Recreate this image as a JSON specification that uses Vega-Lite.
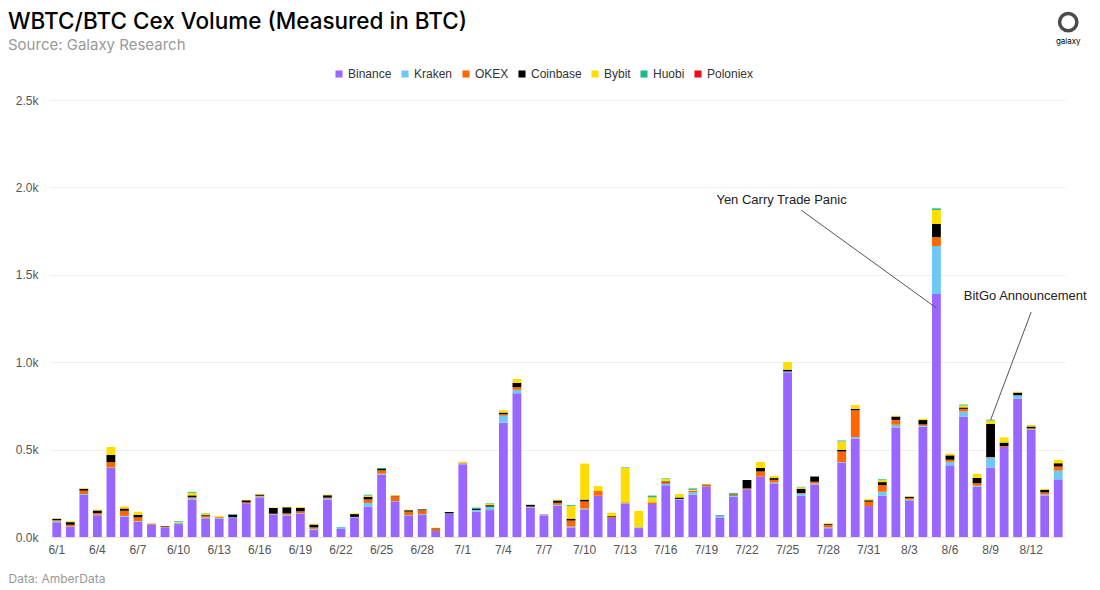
{
  "$schema": "https://vega.github.io/schema/vega-lite/v6.json",
  "autosize": "none",
  "width": 1015,
  "height": 437,
  "padding": {"left": 50, "top": 100, "right": 35, "bottom": 53},
  "background": "white",
  "config": {"view": {"stroke": null}, "font": "Liberation Sans"},
  "title": {
    "text": "WBTC/BTC Cex Volume (Measured in BTC)",
    "subtitle": "Source: Galaxy Research",
    "anchor": "start",
    "frame": "group",
    "dx": -42,
    "offset": -47,
    "font": "Inter",
    "fontSize": 22.5,
    "fontWeight": 500,
    "color": "#000000",
    "subtitleFont": "Inter",
    "subtitleFontSize": 15,
    "subtitleColor": "#999999",
    "subtitlePadding": 5
  },
  "datasets": {
    "vol": [
      {"d": "6/1", "Binance": 84, "Kraken": 8, "OKEX": 5, "Coinbase": 7, "Bybit": 3, "Huobi": 0, "Poloniex": 0},
      {"d": "6/2", "Binance": 57, "Kraken": 3, "OKEX": 10, "Coinbase": 15, "Bybit": 5, "Huobi": 0, "Poloniex": 0},
      {"d": "6/3", "Binance": 242, "Kraken": 4, "OKEX": 19, "Coinbase": 10, "Bybit": 5, "Huobi": 0, "Poloniex": 0},
      {"d": "6/4", "Binance": 124, "Kraken": 4, "OKEX": 10, "Coinbase": 14, "Bybit": 6, "Huobi": 0, "Poloniex": 0},
      {"d": "6/5", "Binance": 395, "Kraken": 3, "OKEX": 30, "Coinbase": 42, "Bybit": 45, "Huobi": 0, "Poloniex": 0},
      {"d": "6/6", "Binance": 116, "Kraken": 5, "OKEX": 29, "Coinbase": 13, "Bybit": 12, "Huobi": 0, "Poloniex": 0},
      {"d": "6/7", "Binance": 88, "Kraken": 3, "OKEX": 21, "Coinbase": 15, "Bybit": 17, "Huobi": 0, "Poloniex": 0},
      {"d": "6/8", "Binance": 72, "Kraken": 0, "OKEX": 4, "Coinbase": 0, "Bybit": 2, "Huobi": 0, "Poloniex": 0},
      {"d": "6/9", "Binance": 55, "Kraken": 0, "OKEX": 5, "Coinbase": 3, "Bybit": 0, "Huobi": 0, "Poloniex": 0},
      {"d": "6/10", "Binance": 74, "Kraken": 7, "OKEX": 0, "Coinbase": 0, "Bybit": 5, "Huobi": 4, "Poloniex": 0},
      {"d": "6/11", "Binance": 212, "Kraken": 10, "OKEX": 6, "Coinbase": 10, "Bybit": 15, "Huobi": 5, "Poloniex": 0},
      {"d": "6/12", "Binance": 107, "Kraken": 5, "OKEX": 10, "Coinbase": 5, "Bybit": 8, "Huobi": 2, "Poloniex": 0},
      {"d": "6/13", "Binance": 105, "Kraken": 5, "OKEX": 5, "Coinbase": 0, "Bybit": 6, "Huobi": 0, "Poloniex": 0},
      {"d": "6/14", "Binance": 110, "Kraken": 3, "OKEX": 0, "Coinbase": 15, "Bybit": 0, "Huobi": 3, "Poloniex": 0},
      {"d": "6/15", "Binance": 193, "Kraken": 0, "OKEX": 5, "Coinbase": 12, "Bybit": 3, "Huobi": 0, "Poloniex": 0},
      {"d": "6/16", "Binance": 227, "Kraken": 5, "OKEX": 4, "Coinbase": 7, "Bybit": 4, "Huobi": 0, "Poloniex": 0},
      {"d": "6/17", "Binance": 128, "Kraken": 2, "OKEX": 3, "Coinbase": 33, "Bybit": 2, "Huobi": 0, "Poloniex": 0},
      {"d": "6/18", "Binance": 122, "Kraken": 5, "OKEX": 8, "Coinbase": 35, "Bybit": 3, "Huobi": 0, "Poloniex": 0},
      {"d": "6/19", "Binance": 135, "Kraken": 2, "OKEX": 10, "Coinbase": 20, "Bybit": 5, "Huobi": 0, "Poloniex": 0},
      {"d": "6/20", "Binance": 42, "Kraken": 5, "OKEX": 8, "Coinbase": 16, "Bybit": 5, "Huobi": 0, "Poloniex": 0},
      {"d": "6/21", "Binance": 215, "Kraken": 5, "OKEX": 5, "Coinbase": 14, "Bybit": 3, "Huobi": 0, "Poloniex": 0},
      {"d": "6/22", "Binance": 46, "Kraken": 8, "OKEX": 0, "Coinbase": 0, "Bybit": 0, "Huobi": 3, "Poloniex": 0},
      {"d": "6/23", "Binance": 112, "Kraken": 3, "OKEX": 0, "Coinbase": 16, "Bybit": 4, "Huobi": 0, "Poloniex": 0},
      {"d": "6/24", "Binance": 173, "Kraken": 22, "OKEX": 20, "Coinbase": 14, "Bybit": 8, "Huobi": 5, "Poloniex": 0},
      {"d": "6/25", "Binance": 357, "Kraken": 5, "OKEX": 20, "Coinbase": 7, "Bybit": 0, "Huobi": 6, "Poloniex": 0},
      {"d": "6/26", "Binance": 204, "Kraken": 2, "OKEX": 27, "Coinbase": 3, "Bybit": 3, "Huobi": 0, "Poloniex": 0},
      {"d": "6/27", "Binance": 120, "Kraken": 5, "OKEX": 20, "Coinbase": 8, "Bybit": 3, "Huobi": 0, "Poloniex": 0},
      {"d": "6/28", "Binance": 126, "Kraken": 5, "OKEX": 22, "Coinbase": 5, "Bybit": 0, "Huobi": 2, "Poloniex": 0},
      {"d": "6/29", "Binance": 34, "Kraken": 0, "OKEX": 13, "Coinbase": 3, "Bybit": 3, "Huobi": 0, "Poloniex": 0},
      {"d": "6/30", "Binance": 132, "Kraken": 3, "OKEX": 0, "Coinbase": 8, "Bybit": 0, "Huobi": 0, "Poloniex": 0},
      {"d": "7/1", "Binance": 416, "Kraken": 5, "OKEX": 5, "Coinbase": 0, "Bybit": 5, "Huobi": 0, "Poloniex": 0},
      {"d": "7/2", "Binance": 145, "Kraken": 10, "OKEX": 0, "Coinbase": 8, "Bybit": 0, "Huobi": 5, "Poloniex": 0},
      {"d": "7/3", "Binance": 154, "Kraken": 20, "OKEX": 0, "Coinbase": 8, "Bybit": 8, "Huobi": 3, "Poloniex": 0},
      {"d": "7/4", "Binance": 654, "Kraken": 40, "OKEX": 8, "Coinbase": 10, "Bybit": 14, "Huobi": 0, "Poloniex": 0},
      {"d": "7/5", "Binance": 822, "Kraken": 20, "OKEX": 15, "Coinbase": 25, "Bybit": 22, "Huobi": 0, "Poloniex": 0},
      {"d": "7/6", "Binance": 168, "Kraken": 3, "OKEX": 3, "Coinbase": 10, "Bybit": 0, "Huobi": 0, "Poloniex": 0},
      {"d": "7/7", "Binance": 124, "Kraken": 5, "OKEX": 2, "Coinbase": 0, "Bybit": 0, "Huobi": 0, "Poloniex": 0},
      {"d": "7/8", "Binance": 179, "Kraken": 5, "OKEX": 12, "Coinbase": 13, "Bybit": 5, "Huobi": 0, "Poloniex": 0},
      {"d": "7/9", "Binance": 55, "Kraken": 5, "OKEX": 34, "Coinbase": 11, "Bybit": 72, "Huobi": 5, "Poloniex": 0},
      {"d": "7/10", "Binance": 158, "Kraken": 5, "OKEX": 40, "Coinbase": 11, "Bybit": 206, "Huobi": 0, "Poloniex": 0},
      {"d": "7/11", "Binance": 236, "Kraken": 0, "OKEX": 27, "Coinbase": 0, "Bybit": 28, "Huobi": 0, "Poloniex": 0},
      {"d": "7/12", "Binance": 109, "Kraken": 0, "OKEX": 5, "Coinbase": 5, "Bybit": 20, "Huobi": 0, "Poloniex": 0},
      {"d": "7/13", "Binance": 189, "Kraken": 3, "OKEX": 3, "Coinbase": 2, "Bybit": 198, "Huobi": 3, "Poloniex": 0},
      {"d": "7/14", "Binance": 51, "Kraken": 5, "OKEX": 0, "Coinbase": 0, "Bybit": 93, "Huobi": 0, "Poloniex": 0},
      {"d": "7/15", "Binance": 189, "Kraken": 0, "OKEX": 5, "Coinbase": 3, "Bybit": 30, "Huobi": 10, "Poloniex": 0},
      {"d": "7/16", "Binance": 296, "Kraken": 8, "OKEX": 8, "Coinbase": 6, "Bybit": 15, "Huobi": 3, "Poloniex": 0},
      {"d": "7/17", "Binance": 215, "Kraken": 3, "OKEX": 0, "Coinbase": 8, "Bybit": 20, "Huobi": 0, "Poloniex": 0},
      {"d": "7/18", "Binance": 242, "Kraken": 15, "OKEX": 8, "Coinbase": 0, "Bybit": 5, "Huobi": 8, "Poloniex": 0},
      {"d": "7/19", "Binance": 288, "Kraken": 0, "OKEX": 8, "Coinbase": 4, "Bybit": 3, "Huobi": 0, "Poloniex": 0},
      {"d": "7/20", "Binance": 112, "Kraken": 10, "OKEX": 0, "Coinbase": 2, "Bybit": 0, "Huobi": 0, "Poloniex": 0},
      {"d": "7/21", "Binance": 231, "Kraken": 5, "OKEX": 3, "Coinbase": 5, "Bybit": 3, "Huobi": 5, "Poloniex": 0},
      {"d": "7/22", "Binance": 273, "Kraken": 0, "OKEX": 5, "Coinbase": 48, "Bybit": 0, "Huobi": 0, "Poloniex": 0},
      {"d": "7/23", "Binance": 345, "Kraken": 0, "OKEX": 30, "Coinbase": 20, "Bybit": 34, "Huobi": 0, "Poloniex": 0},
      {"d": "7/24", "Binance": 307, "Kraken": 5, "OKEX": 15, "Coinbase": 10, "Bybit": 12, "Huobi": 0, "Poloniex": 0},
      {"d": "7/25", "Binance": 942, "Kraken": 5, "OKEX": 0, "Coinbase": 10, "Bybit": 44, "Huobi": 0, "Poloniex": 0},
      {"d": "7/26", "Binance": 236, "Kraken": 12, "OKEX": 3, "Coinbase": 25, "Bybit": 8, "Huobi": 3, "Poloniex": 0},
      {"d": "7/27", "Binance": 301, "Kraken": 5, "OKEX": 10, "Coinbase": 30, "Bybit": 0, "Huobi": 0, "Poloniex": 0},
      {"d": "7/28", "Binance": 50, "Kraken": 5, "OKEX": 15, "Coinbase": 5, "Bybit": 3, "Huobi": 0, "Poloniex": 0},
      {"d": "7/29", "Binance": 425, "Kraken": 3, "OKEX": 61, "Coinbase": 10, "Bybit": 48, "Huobi": 5, "Poloniex": 0},
      {"d": "7/30", "Binance": 564, "Kraken": 8, "OKEX": 153, "Coinbase": 8, "Bybit": 22, "Huobi": 0, "Poloniex": 0},
      {"d": "7/31", "Binance": 177, "Kraken": 0, "OKEX": 25, "Coinbase": 8, "Bybit": 7, "Huobi": 0, "Poloniex": 0},
      {"d": "8/1", "Binance": 236, "Kraken": 23, "OKEX": 38, "Coinbase": 17, "Bybit": 11, "Huobi": 5, "Poloniex": 0},
      {"d": "8/2", "Binance": 627, "Kraken": 15, "OKEX": 28, "Coinbase": 19, "Bybit": 5, "Huobi": 0, "Poloniex": 0},
      {"d": "8/3", "Binance": 206, "Kraken": 8, "OKEX": 8, "Coinbase": 8, "Bybit": 5, "Huobi": 0, "Poloniex": 0},
      {"d": "8/4", "Binance": 631, "Kraken": 5, "OKEX": 8, "Coinbase": 25, "Bybit": 8, "Huobi": 0, "Poloniex": 0},
      {"d": "8/5", "Binance": 1390, "Kraken": 275, "OKEX": 50, "Coinbase": 76, "Bybit": 80, "Huobi": 9, "Poloniex": 0},
      {"d": "8/6", "Binance": 410, "Kraken": 20, "OKEX": 12, "Coinbase": 25, "Bybit": 10, "Huobi": 0, "Poloniex": 0},
      {"d": "8/7", "Binance": 688, "Kraken": 30, "OKEX": 15, "Coinbase": 8, "Bybit": 12, "Huobi": 5, "Poloniex": 0},
      {"d": "8/8", "Binance": 288, "Kraken": 5, "OKEX": 15, "Coinbase": 30, "Bybit": 24, "Huobi": 0, "Poloniex": 0},
      {"d": "8/9", "Binance": 397, "Kraken": 57, "OKEX": 3, "Coinbase": 190, "Bybit": 19, "Huobi": 5, "Poloniex": 0},
      {"d": "8/10", "Binance": 515, "Kraken": 0, "OKEX": 5, "Coinbase": 20, "Bybit": 30, "Huobi": 0, "Poloniex": 0},
      {"d": "8/11", "Binance": 791, "Kraken": 20, "OKEX": 0, "Coinbase": 15, "Bybit": 5, "Huobi": 0, "Poloniex": 0},
      {"d": "8/12", "Binance": 612, "Kraken": 5, "OKEX": 5, "Coinbase": 10, "Bybit": 9, "Huobi": 0, "Poloniex": 0},
      {"d": "8/13", "Binance": 238, "Kraken": 5, "OKEX": 12, "Coinbase": 15, "Bybit": 5, "Huobi": 0, "Poloniex": 0},
      {"d": "8/14", "Binance": 330, "Kraken": 50, "OKEX": 23, "Coinbase": 19, "Bybit": 19, "Huobi": 0, "Poloniex": 0}
    ],
    "ex": [
      {"ex": "Binance", "k": 0},
      {"ex": "Kraken", "k": 1},
      {"ex": "OKEX", "k": 2},
      {"ex": "Coinbase", "k": 3},
      {"ex": "Bybit", "k": 4},
      {"ex": "Huobi", "k": 5},
      {"ex": "Poloniex", "k": 6}
    ],
    "notes": [
      {"d": "7/25", "v": 1928, "label": "Yen Carry Trade Panic"},
      {"d": "8/12", "v": 1378, "label": "BitGo Announcement"}
    ],
    "lines": [
      {"d": "7/26", "v": 1870, "d2": "8/5", "v2": 1310},
      {"d": "8/12", "v": 1287, "d2": "8/9", "v2": 669}
    ],
    "logo": [
      {"d": "8/14", "v": 2946, "label": "galaxy", "vt": 2830}
    ]
  },
  "layer": [
    {
      "data": {"name": "vol"},
      "transform": [
        {"fold": ["Binance", "Kraken", "OKEX", "Coinbase", "Bybit", "Huobi", "Poloniex"], "as": ["ex", "val"]},
        {"lookup": "ex", "from": {"data": {"name": "ex"}, "key": "ex", "fields": ["k"]}}
      ],
      "mark": {"type": "bar"},
      "encoding": {
        "x": {
          "field": "d",
          "type": "ordinal",
          "sort": null,
          "scale": {"paddingInner": 0.35, "paddingOuter": 0.175},
          "axis": {
            "values": ["6/1", "6/4", "6/7", "6/10", "6/13", "6/16", "6/19", "6/22", "6/25", "6/28", "7/1", "7/4", "7/7", "7/10", "7/13", "7/16", "7/19", "7/22", "7/25", "7/28", "7/31", "8/3", "8/6", "8/9", "8/12"],
            "labelAngle": 0,
            "labelFontSize": 12,
            "labelColor": "#555555",
            "labelPadding": 7,
            "ticks": false,
            "domainColor": "#e6e6e6",
            "title": "Data: AmberData",
            "titleFont": "Inter",
            "titleFontSize": 12,
            "titleFontWeight": 400,
            "titleColor": "#999999",
            "titleAnchor": "start",
            "titleAlign": "left",
            "titleBaseline": "middle",
            "titleX": -42,
            "titleY": 41
          }
        },
        "y": {
          "field": "val",
          "type": "quantitative",
          "stack": "zero",
          "scale": {"domain": [0, 2500], "nice": false},
          "axis": {
            "values": [0, 500, 1000, 1500, 2000, 2500],
            "labelExpr": "format(datum.value / 1000, '.1f') + 'k'",
            "labelFontSize": 12,
            "labelColor": "#555555",
            "labelPadding": 12,
            "ticks": false,
            "domain": false,
            "gridColor": "#eeeeee",
            "title": null
          }
        },
        "color": {
          "field": "ex",
          "type": "nominal",
          "scale": {
            "domain": ["Binance", "Kraken", "OKEX", "Coinbase", "Bybit", "Huobi", "Poloniex"],
            "range": ["#9966ff", "#6ec8f5", "#ff6600", "#000000", "#ffdd00", "#1db989", "#e8101a"]
          },
          "legend": {
            "title": null,
            "orient": "none",
            "direction": "horizontal",
            "legendX": 283,
            "legendY": -32,
            "symbolType": "square",
            "symbolSize": 50,
            "symbolStrokeWidth": 0,
            "labelFontSize": 12,
            "labelColor": "#333333",
            "labelOffset": 3,
            "columnPadding": 7
          }
        },
        "order": {"field": "k", "type": "quantitative", "sort": "ascending"}
      }
    },
    {
      "data": {"name": "lines"},
      "mark": {"type": "rule", "color": "#555555", "strokeWidth": 1},
      "encoding": {
        "x": {"field": "d", "type": "ordinal", "sort": null},
        "x2": {"field": "d2"},
        "y": {"field": "v", "type": "quantitative", "scale": {"domain": [0, 2500], "nice": false}},
        "y2": {"field": "v2"}
      }
    },
    {
      "data": {"name": "notes"},
      "mark": {"type": "text", "fontSize": 13, "color": "#222222", "align": "center", "baseline": "middle", "dx": -6},
      "encoding": {
        "x": {"field": "d", "type": "ordinal", "sort": null},
        "y": {"field": "v", "type": "quantitative", "scale": {"domain": [0, 2500], "nice": false}},
        "text": {"field": "label"}
      }
    },
    {
      "data": {"name": "logo"},
      "mark": {"type": "point", "shape": "circle", "size": 300, "filled": false, "stroke": "#000000", "strokeWidth": 3.5, "xOffset": 10, "clip": false},
      "encoding": {
        "x": {"field": "d", "type": "ordinal", "sort": null},
        "y": {"field": "v", "type": "quantitative", "scale": {"domain": [0, 2500], "nice": false}}
      }
    },
    {
      "data": {"name": "logo"},
      "mark": {"type": "text", "fontSize": 8, "color": "#000000", "align": "center", "baseline": "middle", "dx": 10, "font": "Inter"},
      "encoding": {
        "x": {"field": "d", "type": "ordinal", "sort": null},
        "y": {"field": "vt", "type": "quantitative", "scale": {"domain": [0, 2500], "nice": false}},
        "text": {"field": "label"}
      }
    }
  ]
}
